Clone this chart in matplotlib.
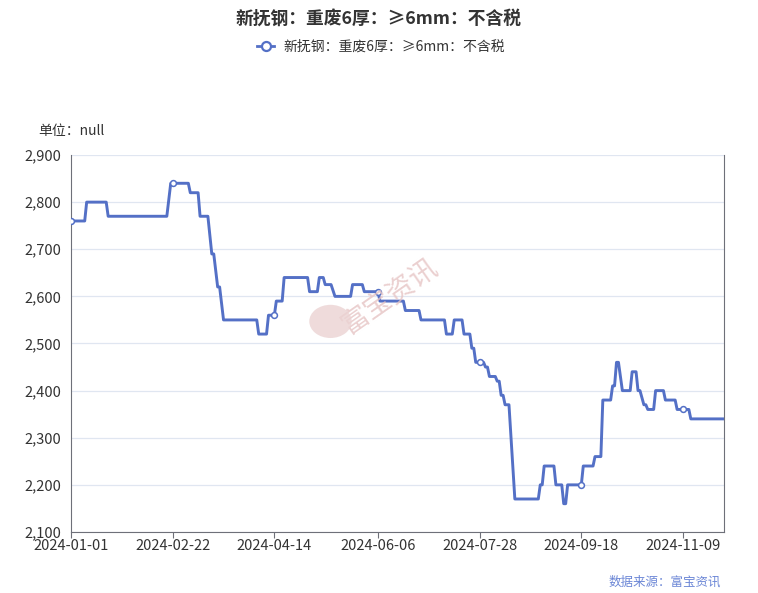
"""Recreate the 新抚钢 scrap-steel price line chart (2024)."""

import matplotlib

matplotlib.use("Agg")

import matplotlib.dates as mdates
import matplotlib.pyplot as plt
import numpy as np
from matplotlib.patches import Circle
from matplotlib.ticker import FuncFormatter, MultipleLocator

plt.rcParams["font.family"] = ["Noto Sans CJK SC", "DejaVu Sans"]

TITLE = "新抚钢：重废6厚：≥6mm：不含税"
SERIES_NAME = "新抚钢：重废6厚：≥6mm：不含税"

# vertices of the price line (start/end of each plateau)
dates = [
    "2024-01-01", "2024-01-08", "2024-01-09", "2024-01-19", "2024-01-20",
    "2024-02-19", "2024-02-21", "2024-02-22", "2024-03-01", "2024-03-02",
    "2024-03-06", "2024-03-07", "2024-03-11", "2024-03-13", "2024-03-14",
    "2024-03-16", "2024-03-17", "2024-03-19", "2024-04-05", "2024-04-06",
    "2024-04-10", "2024-04-11", "2024-04-14", "2024-04-15", "2024-04-18",
    "2024-04-19", "2024-05-01", "2024-05-02", "2024-05-06", "2024-05-07",
    "2024-05-09", "2024-05-10", "2024-05-13", "2024-05-15", "2024-05-23",
    "2024-05-24", "2024-05-29", "2024-05-30", "2024-06-06", "2024-06-07",
    "2024-06-19", "2024-06-20", "2024-06-27", "2024-06-28", "2024-07-10",
    "2024-07-11", "2024-07-14", "2024-07-15", "2024-07-19", "2024-07-20",
    "2024-07-23", "2024-07-24", "2024-07-25", "2024-07-26", "2024-07-28",
    "2024-07-30", "2024-07-31", "2024-08-01", "2024-08-02", "2024-08-05",
    "2024-08-06", "2024-08-07", "2024-08-08", "2024-08-09", "2024-08-10",
    "2024-08-12", "2024-08-15", "2024-08-27", "2024-08-28", "2024-08-29",
    "2024-08-30", "2024-09-04", "2024-09-05", "2024-09-08", "2024-09-09",
    "2024-09-10", "2024-09-11", "2024-09-18", "2024-09-19", "2024-09-24",
    "2024-09-25", "2024-09-28", "2024-09-29", "2024-10-03", "2024-10-04",
    "2024-10-05", "2024-10-06", "2024-10-07", "2024-10-09", "2024-10-13",
    "2024-10-14", "2024-10-16", "2024-10-17", "2024-10-18", "2024-10-20",
    "2024-10-21", "2024-10-22", "2024-10-25", "2024-10-26", "2024-10-30",
    "2024-10-31", "2024-11-05", "2024-11-06", "2024-11-09", "2024-11-12",
    "2024-11-13", "2024-11-30",
]
prices = [
    2760, 2760, 2800, 2800, 2770,
    2770, 2840, 2840, 2840, 2820,
    2820, 2770, 2770, 2690, 2690,
    2620, 2620, 2550, 2550, 2520,
    2520, 2560, 2560, 2590, 2590,
    2640, 2640, 2610, 2610, 2640,
    2640, 2625, 2625, 2600, 2600,
    2625, 2625, 2610, 2610, 2590,
    2590, 2570, 2570, 2550, 2550,
    2520, 2520, 2550, 2550, 2520,
    2520, 2490, 2490, 2460, 2460,
    2460, 2450, 2450, 2430, 2430,
    2420, 2420, 2390, 2390, 2370,
    2370, 2170, 2170, 2200, 2200,
    2240, 2240, 2200, 2200, 2160,
    2160, 2200, 2200, 2240, 2240,
    2260, 2260, 2380, 2380, 2410,
    2410, 2460, 2460, 2400, 2400,
    2440, 2440, 2400, 2400, 2370,
    2370, 2360, 2360, 2400, 2400,
    2380, 2380, 2360, 2360, 2360,
    2340, 2340,
]
tick_dates = ["2024-01-01", "2024-02-22", "2024-04-14", "2024-06-06",
              "2024-07-28", "2024-09-18", "2024-11-09"]

LINE = "#5470C6"
TEXT = "#333333"
AXIS = "#6E7079"
GRID = "#E0E6F1"

x = np.array(dates, dtype="datetime64[D]")
marks = [dates.index(d) for d in tick_dates]

fig = plt.figure(figsize=(7.58, 5.93), dpi=100)
ax = fig.add_axes([0.0937, 0.1029, 0.8615, 0.6357])

ax.plot(x, prices, color=LINE, lw=2.1, solid_joinstyle="round",
        marker="o", markevery=marks, markersize=4.2,
        markerfacecolor="white", markeredgecolor=LINE, markeredgewidth=1.1,
        zorder=3)

ax.set_ylim(2100, 2900)
ax.yaxis.set_major_locator(MultipleLocator(100))
ax.yaxis.set_major_formatter(FuncFormatter(lambda v, _: f"{v:,.0f}"))
ax.set_xlim(np.datetime64("2024-01-01"), np.datetime64("2024-11-30"))
ax.set_xticks(np.array(tick_dates, dtype="datetime64[D]"))
ax.xaxis.set_major_formatter(mdates.DateFormatter("%Y-%m-%d"))

ax.grid(axis="y", color=GRID, lw=0.9)
ax.set_axisbelow(True)
ax.spines["top"].set_visible(False)
for side in ["left", "right", "bottom"]:
    ax.spines[side].set_color(AXIS)
ax.tick_params(axis="y", length=0, labelsize=10.5, labelcolor=TEXT, pad=7)
ax.tick_params(axis="x", length=4, color=AXIS, labelsize=10.5,
               labelcolor=TEXT, pad=1)

# watermark
fig.text(0.515, 0.5, "富宝资讯", rotation=35, fontsize=20, color="#E6C4C4",
         alpha=0.8, ha="center", va="center", zorder=0)
fig.patches.append(Circle((0.436, 0.458), 0.028, transform=fig.transFigure,
                          facecolor="#EBD3D3", edgecolor="none", alpha=0.8))

fig.text(0.5, 0.968, TITLE, ha="center", va="center", fontsize=12.8,
         fontweight="bold", color=TEXT)
fig.lines.append(plt.Line2D([0.339, 0.362], [0.922, 0.922], color=LINE, lw=2,
                            transform=fig.transFigure))
fig.lines.append(plt.Line2D([0.3505], [0.922], color=LINE, marker="o",
                            markersize=6.5, markerfacecolor="white",
                            markeredgewidth=1.6, transform=fig.transFigure))
fig.text(0.374, 0.922, SERIES_NAME, ha="left", va="center", fontsize=10,
         color=TEXT)
fig.text(0.05, 0.779, "单位：null", ha="left", va="center", fontsize=10,
         color=TEXT)
fig.text(0.951, 0.018, "数据来源：富宝资讯", ha="right", va="center",
         fontsize=9, color="#6B86D6")

fig.savefig("out.png", dpi=100, facecolor="white")
